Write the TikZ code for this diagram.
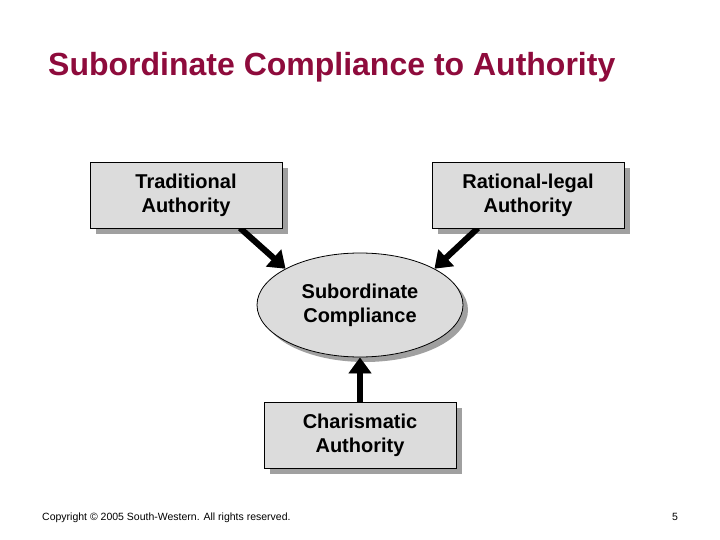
\documentclass[tikz,border=0pt]{standalone}
\usepackage{fontspec}
\setmainfont{Liberation Sans}
\usetikzlibrary{arrows.meta,shapes.geometric,calc}
\definecolor{titlered}{HTML}{8E0B3C}
\definecolor{boxfill}{HTML}{DCDCDC}
\definecolor{shadowgray}{HTML}{A0A0A0}
\tikzset{
  boxnode/.style={draw=black, line width=0.8pt, fill=boxfill, minimum width=192pt, minimum height=66pt,
    align=center, inner sep=0pt, font=\fontsize{20}{24}\selectfont\bfseries},
  boxshadow/.style={fill=shadowgray, draw=none, minimum width=192pt, minimum height=66pt, inner sep=0pt},
  ellnode/.style={ellipse, draw=black, line width=0.8pt, fill=boxfill, minimum width=206pt, minimum height=104pt,
    align=center, inner sep=0pt, font=\fontsize{20}{24}\selectfont\bfseries},
  ellshadow/.style={ellipse, fill=shadowgray, draw=none, minimum width=206pt, minimum height=104pt, inner sep=0pt},
  bigarrow/.style={line width=6pt, -{Triangle[length=16pt,width=22pt]}},
  arrowshadow/.style={bigarrow, draw=shadowgray, xshift=4pt, yshift=-3pt},
}
\begin{document}
\begin{tikzpicture}[x=1pt,y=-1pt]
\useasboundingbox (0,0) rectangle (720,540);
% title
\node[anchor=base west, inner sep=0pt, text=titlered, font=\fontsize{32}{36}\selectfont\bfseries] (title) at (48,76) {Subordinate Compliance to Authority};
% shadows of shapes
\node[boxshadow] at (192,201) {};
\node[boxshadow] at (534,201) {};
\node[boxshadow] at (366,441) {};
\node[ellshadow] at (365,310) {};
% main nodes (positions)
\coordinate (tradc) at (186,195);
\coordinate (ratc) at (528,195);
\coordinate (charc) at (360,435);
\coordinate (ellc) at (360,305);
\node[ellnode] (ell) at (ellc) {Subordinate\\Compliance};
% arrow start points
\coordinate (ts) at (240,228);
\coordinate (rs) at (478,228);
\coordinate (cs) at (360,402);
% arrow shadows
\draw[arrowshadow] (ts) -- (ell.154);
\draw[arrowshadow] (rs) -- (ell.26);
\draw[arrowshadow] (cs) -- (ell.south);
% arrows
\draw[bigarrow] (ts) -- (ell.154);
\draw[bigarrow] (rs) -- (ell.26);
\draw[bigarrow] (cs) -- (ell.south);
% boxes
\node[boxnode] (trad) at (tradc) {Traditional\\Authority};
\node[boxnode] (rat) at (ratc) {Rational-legal\\Authority};
\node[boxnode] (char) at (charc) {Charismatic\\Authority};
% footer
\node[anchor=base west, inner sep=0pt, font=\fontsize{10.5}{12}\selectfont] (copy) at (42,520) {Copyright © 2005 South-Western. All rights reserved.};
\node[anchor=base west, inner sep=0pt, font=\fontsize{10.5}{12}\selectfont] (page) at (672,520) {5};
\end{tikzpicture}
\end{document}
